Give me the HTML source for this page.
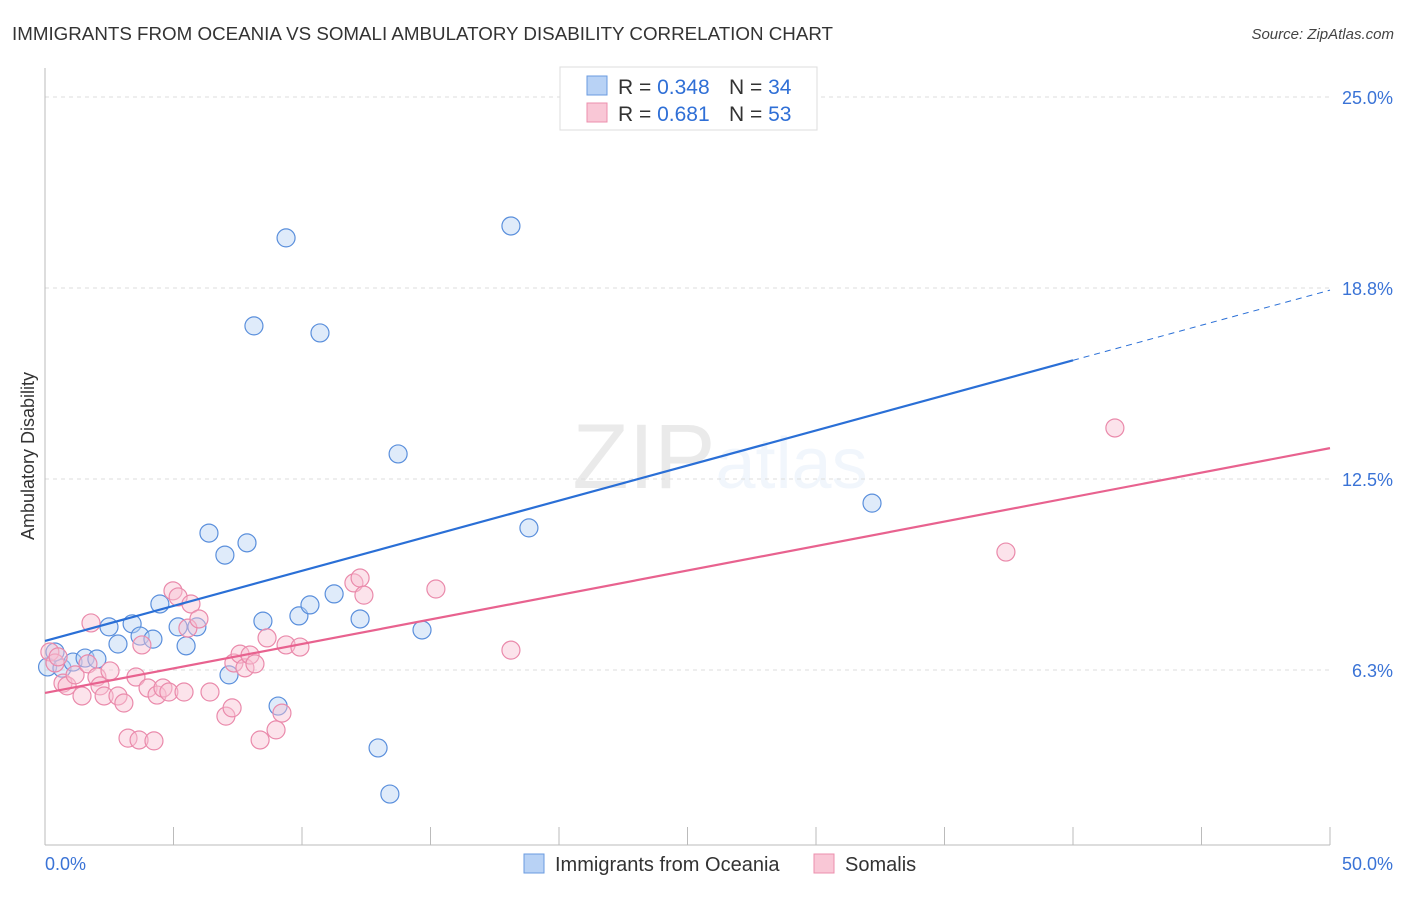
<!DOCTYPE html>
<html><head><meta charset="utf-8"><style>
body{margin:0;background:#fff;font-family:"Liberation Sans",sans-serif;}
svg text{font-family:"Liberation Sans",sans-serif;}
</style></head><body>
<svg id="chart" width="1406" height="892" viewBox="0 0 1406 892" xmlns="http://www.w3.org/2000/svg">
<text x="12" y="40" font-size="18" fill="#333" textLength="821" lengthAdjust="spacingAndGlyphs">IMMIGRANTS FROM OCEANIA VS SOMALI AMBULATORY DISABILITY CORRELATION CHART</text>
<text x="1394" y="39" font-size="15" fill="#444" text-anchor="end" font-style="italic">Source: ZipAtlas.com</text>
<text x="720" y="488" font-size="92" text-anchor="middle" fill="#000" opacity="0.08" font-family="Liberation Serif">ZIP<tspan fill="#3a7bd5" opacity="0.9" font-family="Liberation Sans" font-size="72">atlas</tspan></text>
<text transform="translate(34,456) rotate(-90)" font-size="18" fill="#333" text-anchor="middle">Ambulatory Disability</text>
<g id="grid"></g><g id="axes"></g><g id="marks"></g>
<g>
<rect x="560" y="67" width="257" height="63" fill="#fff" stroke="#ddd"/>
<rect x="587" y="76" width="20" height="19" fill="#b8d2f5" stroke="#6a9be0"/>
<rect x="587" y="103" width="20" height="19" fill="#f9c7d6" stroke="#ec8fad"/>
<text x="618" y="94" font-size="21" fill="#333">R = <tspan fill="#2f6fd6">0.348</tspan><tspan x="729">N = </tspan><tspan fill="#2f6fd6">34</tspan></text>
<text x="618" y="121" font-size="21" fill="#333">R = <tspan fill="#2f6fd6"> 0.681</tspan><tspan x="729">N = </tspan><tspan fill="#2f6fd6">53</tspan></text>
</g>
<g>
<rect x="524" y="854" width="20" height="19" fill="#b8d2f5" stroke="#6a9be0"/>
<text x="555" y="871" font-size="20" fill="#333">Immigrants from Oceania</text>
<rect x="814" y="854" width="20" height="19" fill="#f9c7d6" stroke="#ec8fad"/>
<text x="845" y="871" font-size="20" fill="#333">Somalis</text>
</g>
</svg>
<script>
const yTicks=[6.25,12.5,18.75,25];
const yTickLabels=["6.3%","12.5%","18.8%","25.0%"];
const xTickLabels=["0.0%","50.0%"];
const blueX=[0.1,0.66,1.09,1.56,2.02,0.39,2.49,2.84,3.39,3.7,4.2,4.47,5.18,5.49,5.91,6.38,7.0,7.16,7.86,8.13,8.48,9.07,9.38,9.88,10.31,10.7,11.25,12.26,12.96,13.42,13.74,14.67,18.13,18.83,32.18];
const blueY=[6.35,6.31,6.51,6.64,6.61,6.84,7.66,7.1,7.76,7.36,7.26,8.41,7.66,7.04,7.66,10.73,10.01,6.09,10.41,17.51,7.85,5.07,20.39,8.02,8.38,17.28,8.74,7.92,3.7,2.19,13.32,7.56,20.78,10.9,11.71];
const pinkX=[0.19,0.39,0.51,0.7,0.86,1.17,1.44,1.67,1.79,2.02,2.14,2.3,2.53,2.84,3.07,3.23,3.54,3.66,3.77,4.01,4.24,4.36,4.59,4.82,4.98,5.18,5.41,5.56,5.68,5.99,6.42,7.04,7.28,7.35,7.59,7.78,7.98,8.17,8.37,8.64,8.99,9.22,9.38,9.92,12.02,12.26,12.41,15.21,18.13,37.39,41.63];
const pinkY=[6.84,6.48,6.68,5.82,5.73,6.09,5.4,6.45,7.79,6.02,5.73,5.4,6.22,5.4,5.17,4.02,6.02,3.96,7.07,5.66,3.93,5.43,5.66,5.53,8.84,8.64,5.53,7.62,8.41,7.92,5.53,4.74,5.01,6.48,6.77,6.32,6.74,6.45,3.96,7.3,4.29,4.84,7.07,7.0,9.1,9.26,8.7,8.9,6.9,10.11,14.17];
const blueTrend=[7.2,18.68];
const pinkTrend=[5.5,13.51];
const X=v=>45+v*25.7, Y=v=>861-v*30.56;
const NS="http://www.w3.org/2000/svg";
function mk(tag,attrs,parent,txt){const e=document.createElementNS(NS,tag);for(const k in attrs)e.setAttribute(k,attrs[k]);if(txt!==undefined)e.textContent=txt;document.getElementById(parent).appendChild(e);return e;}
yTicks.forEach((t,i)=>{
 const l=mk('line',{x1:45,x2:1330,y1:Y(t),y2:Y(t),stroke:'#ddd','stroke-dasharray':'4,4'},'grid');
 
 
 const tx=mk('text',{x:1393,y:Y(t)+7,'font-size':18,fill:'#3a73d6','text-anchor':'end'},'grid',yTickLabels[i]);
 
 
});
const ax=mk('line',{x1:45,x2:45,y1:68,y2:845,stroke:'#bbb'},'axes');


const bx=mk('line',{x1:45,x2:1330,y1:845,y2:845,stroke:'#bbb'},'axes');


for(let i=0;i<=10;i++){const t=mk('line',{x1:X(i*5),x2:X(i*5),y1:827,y2:845,stroke:'#bbb'},'axes');
 
 }
const xl0=mk('text',{x:45,y:870,'font-size':18,fill:'#3a73d6'},'axes',xTickLabels[0]);


const xl1=mk('text',{x:1393,y:870,'font-size':18,fill:'#3a73d6','text-anchor':'end'},'axes',xTickLabels[1]);


function pts(xs,ys,fill,stroke,name){xs.forEach((x,i)=>{const c=mk('circle',{cx:X(x),cy:Y(ys[i]),r:9,fill:fill,'fill-opacity':0.45,stroke:stroke,'stroke-width':1.2},'marks');
 
 });}
pts(blueX,blueY,'#b8d2f5','#5a8fdc','oceania-point');
pts(pinkX,pinkY,'#f9c0d2','#ea8aab','somalis-point');
const at=v=>blueTrend[0]+(blueTrend[1]-blueTrend[0])*v/50;
const b1=mk('line',{x1:X(0),y1:Y(at(0)),x2:X(40),y2:Y(at(40)),stroke:'#2a6fd6','stroke-width':2.2},'marks');


const b2=mk('line',{x1:X(40),y1:Y(at(40)),x2:X(50),y2:Y(at(50)),stroke:'#2a6fd6','stroke-width':1,'stroke-dasharray':'6,5'},'marks');


const p1=mk('line',{x1:X(0),y1:Y(pinkTrend[0]),x2:X(50),y2:Y(pinkTrend[1]),stroke:'#e8628f','stroke-width':2.2},'marks');


</script>
</body></html>
